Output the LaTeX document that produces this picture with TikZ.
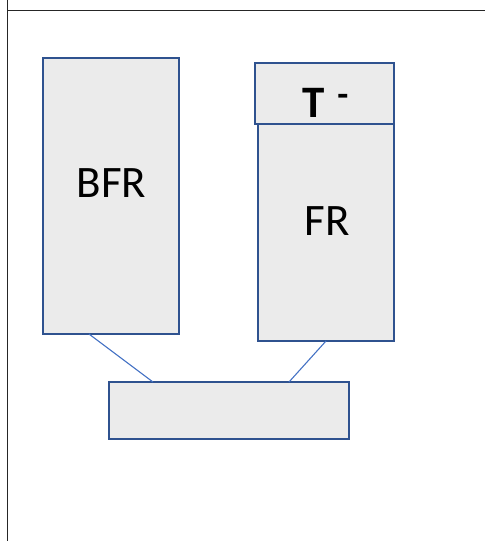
\documentclass[tikz,border=0pt]{standalone}
\usepackage{fontspec}
\setmainfont{Carlito}
\definecolor{boxedge}{HTML}{2F528F}
\definecolor{boxfill}{HTML}{EBEBEB}
\definecolor{linkblue}{HTML}{4472C4}
\definecolor{frameline}{HTML}{262626}
\begin{document}
\begin{tikzpicture}[x=1pt,y=-1pt,
  panel/.style={draw=boxedge, fill=boxfill, line width=2.5pt, rectangle,
    inner sep=0pt, outer sep=0pt, anchor=center},
  link/.style={draw=linkblue, line width=1.1pt},
  caption/.style={anchor=base, inner sep=0pt, font=\fontsize{45}{50}\selectfont},
  edge/.style={draw=frameline, line width=1.6pt}]
\useasboundingbox (0,0) rectangle (485,541);
% outer frame lines
\coordinate (ftop) at (7.5,0);
\coordinate (fbot) at (7.5,541);
\coordinate (fleft) at (7.5,10.5);
\coordinate (fright) at (485,10.5);
\draw[edge] (ftop) -- (fbot);
\draw[edge] (fleft) -- (fright);
% boxes
\node[panel, minimum width=136pt, minimum height=276pt] (bfr) at (111,196) {};
\node[panel, minimum width=136pt, minimum height=217pt] (fr) at (326,232.5) {};
\node[panel, minimum width=139pt, minimum height=61pt] (tbox) at (324.5,93.5) {};
\node[panel, minimum width=240pt, minimum height=57pt] (base) at (229,410.5) {};
% labels
\node[caption] (bfrlabel) at (111.5,197.3) {BFR};
\node[caption] (frlabel) at (327,235.3) {FR};
\node[caption, anchor=base west] (tlabel) at (302,117) {\textbf{T}\hspace{13pt}\raisebox{10.5pt}{\fontsize{36}{36}\selectfont\textbf{-}}};
% connectors
\draw[link] ([xshift=46pt]bfr.south west) -- ([xshift=44pt]base.north west);
\draw[link] ([xshift=68pt]fr.south west) -- ([xshift=180pt]base.north west);
\end{tikzpicture}
\end{document}
